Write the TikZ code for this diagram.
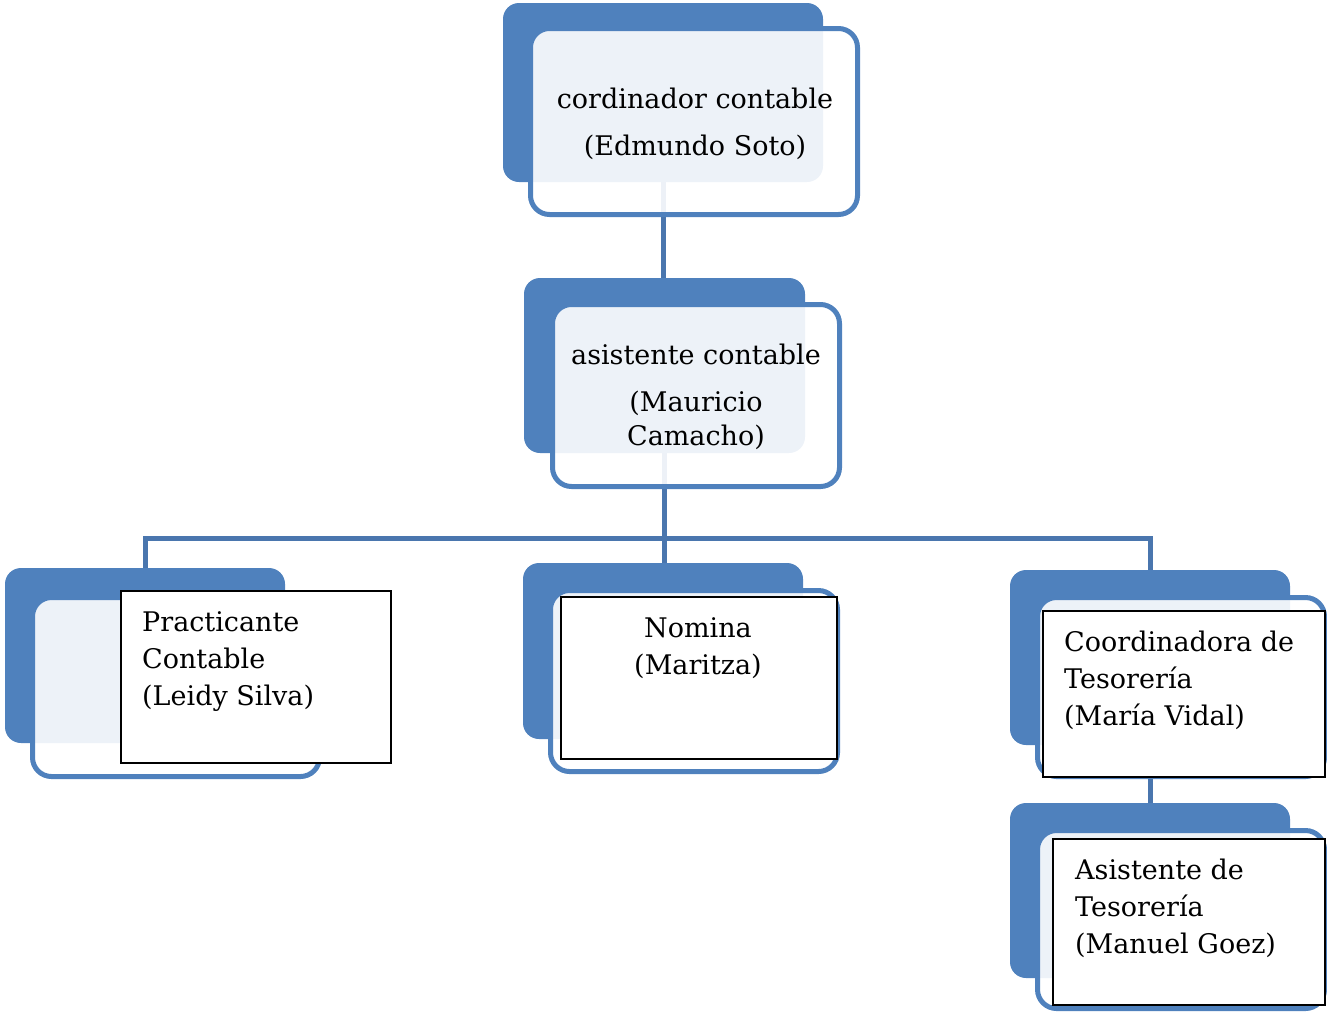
\documentclass[tikz,border=0pt]{standalone}
\usepackage{fontspec}
\setmainfont{DejaVu Serif}
\definecolor{accent}{HTML}{4F81BD}
\definecolor{linkc}{HTML}{4A76AE}
\begin{document}
\begin{tikzpicture}[x=1pt,y=-1pt,
  back/.style={fill=accent, rounded corners=16pt, draw=none, inner sep=0pt, outer sep=0pt, anchor=north west},
  front/.style={draw=accent, line width=5pt, fill=white, fill opacity=0.9, rounded corners=19pt, inner sep=0pt, outer sep=0pt, anchor=north west},
  textbox/.style={draw=black, line width=1.3pt, fill=white, inner sep=0pt, outer sep=0pt, anchor=north west},
  lbl/.style={font=\fontsize{27}{37}\selectfont, inner sep=0pt, text=black},
  conn/.style={draw=linkc, line width=5pt}]
\useasboundingbox (0,0) rectangle (1327,1013);
% back boxes
\node[back, minimum width=320pt, minimum height=179pt] (b1) at (503,3) {};
\node[back, minimum width=281pt, minimum height=175pt] (b2) at (524,278) {};
\node[back, minimum width=280pt, minimum height=175pt] (b3) at (5,568) {};
\node[back, minimum width=280pt, minimum height=176pt] (b4) at (523,563) {};
\node[back, minimum width=280pt, minimum height=175pt] (b5) at (1010,570) {};
\node[back, minimum width=280pt, minimum height=175pt] (b6) at (1010,803) {};
% connectors
\coordinate (bus) at (663,538);
\draw[conn] (b1.south) -- (b1.south |- b2.north);
\draw[conn] (b2.south) -- (b2.south |- b4.north);
\draw[conn] (b3.north) -- (b3.north |- bus) -- (b5.north |- bus) -- (b5.north);
\draw[conn] (b5.south) -- (b6.north);
% front boxes
\node[front, minimum width=327pt, minimum height=186pt] (f1) at (530.5,28.5) {};
\node[front, minimum width=287pt, minimum height=182pt] (f2) at (552.5,304.5) {};
\node[front, minimum width=287pt, minimum height=179pt] (f3) at (32.5,597.5) {};
\node[front, minimum width=287pt, minimum height=181pt] (f4) at (550.5,590.5) {};
\node[front, minimum width=287pt, minimum height=179pt] (f5) at (1037.5,597.5) {};
\node[front, minimum width=287pt, minimum height=178pt] (f6) at (1037.5,830.5) {};
% plain text boxes
\node[textbox, minimum width=270pt, minimum height=172pt] (r3) at (121,591) {};
\node[textbox, minimum width=276pt, minimum height=162pt] (r4) at (561,597) {};
\node[textbox, minimum width=282pt, minimum height=166pt] (r5) at (1043,611) {};
\node[textbox, minimum width=272pt, minimum height=166pt] (r6) at (1053,839) {};
% labels
\node[lbl, anchor=north, align=center] (t1) at (695,88) {cordinador contable\\[10pt](Edmundo Soto)};
\node[lbl, anchor=north, align=center] (t2) at (696,344) {asistente contable\\[10pt](Mauricio\\[-3pt]Camacho)};
\node[lbl, anchor=north west, align=left] (t3) at (142,611) {Practicante\\Contable\\(Leidy Silva)};
\node[lbl, anchor=north, align=center] (t4) at (698,617) {Nomina\\(Maritza)};
\node[lbl, anchor=north west, align=left] (t5) at (1064,631) {Coordinadora de\\Tesorería\\(María Vidal)};
\node[lbl, anchor=north west, align=left] (t6) at (1075,859) {Asistente de\\Tesorería\\(Manuel Goez)};
\end{tikzpicture}
\end{document}
